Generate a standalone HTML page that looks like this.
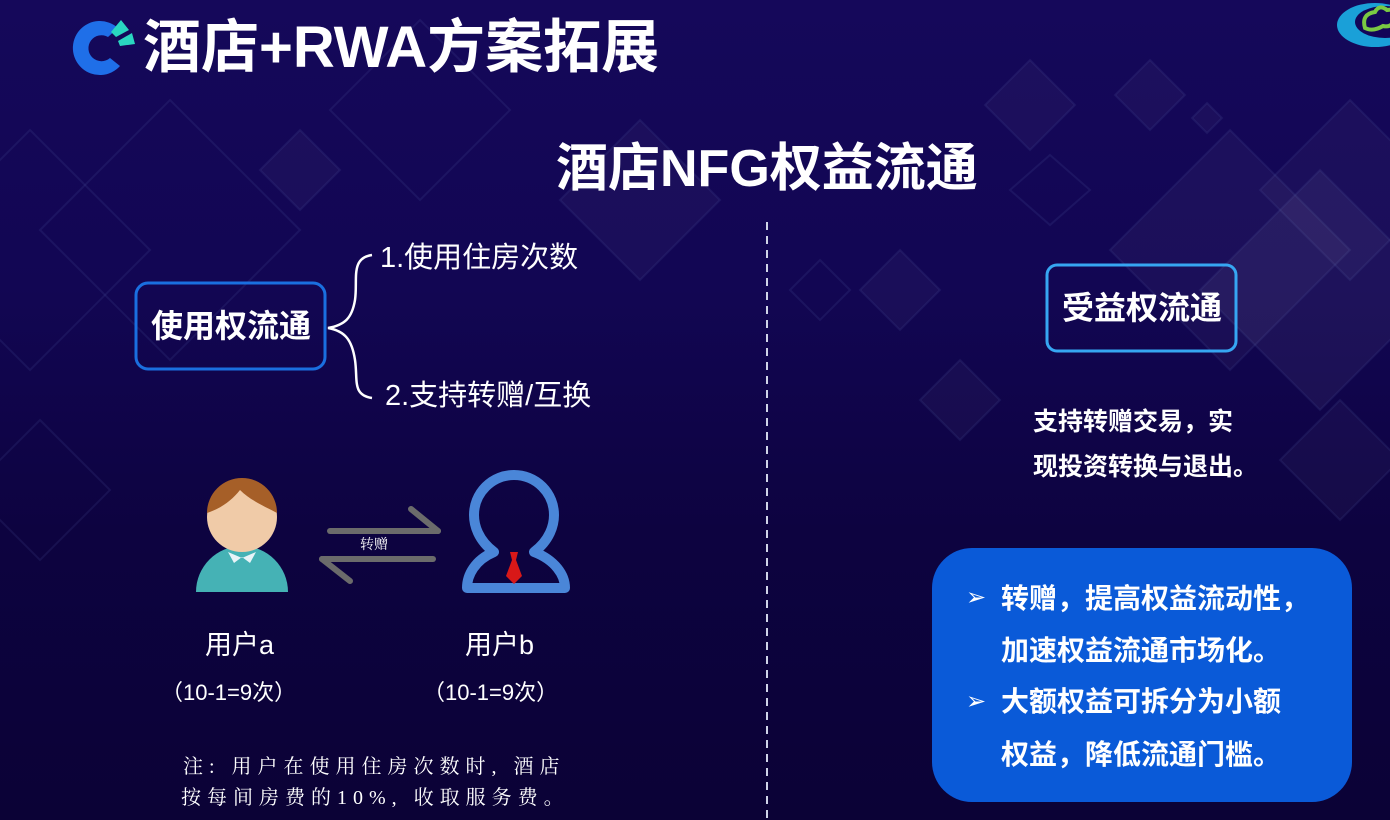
<!DOCTYPE html>
<html><head><meta charset="utf-8"><style>
html,body{margin:0;padding:0}
body{width:1390px;height:820px;overflow:hidden;position:relative;background:linear-gradient(180deg,#15085a 0%,#120653 35%,#0d0340 65%,#0b0236 100%);font-family:"Liberation Sans","Noto Sans CJK SC",sans-serif;color:#fff}
.t{position:absolute;white-space:nowrap}
</style></head><body>
<svg width="1390" height="820" style="position:absolute;left:0;top:0">
<g fill="#ffffff" fill-opacity="0.035" stroke="#5a6ab0" stroke-opacity="0.14" stroke-width="2">
<polygon points="170,100 300,230 170,360 40,230" fill-opacity="0"/>
<polygon points="30,130 150,250 30,370 -90,250" fill-opacity="0"/>
<polygon points="640,120 720,200 640,280 560,200"/>
<polygon points="1030,60 1075,105 1030,150 985,105"/>
<polygon points="1150,60 1185,95 1150,130 1115,95"/>
<polygon points="1207,103 1222,118 1207,133 1192,118"/>
<polygon points="1050,155 1090,190 1050,225 1010,190" fill-opacity="0"/>
<polygon points="1230,130 1350,250 1230,370 1110,250" fill-opacity="0.04"/>
<polygon points="1350,100 1440,190 1350,280 1260,190"/>
<polygon points="1320,170 1440,290 1320,410 1200,290" fill-opacity="0.05"/>
<polygon points="300,130 340,170 300,210 260,170"/>
<polygon points="900,250 940,290 900,330 860,290"/>
<polygon points="960,360 1000,400 960,440 920,400"/>
<polygon points="820,260 850,290 820,320 790,290" fill-opacity="0"/>
<polygon points="420,20 510,110 420,200 330,110" fill-opacity="0"/>
<polygon points="1340,400 1400,460 1340,520 1280,460"/>
<polygon points="40,420 110,490 40,560 -30,490" fill-opacity="0"/>
</g>
<path d="M118,28 A27,27 0 1 0 120,66 L110,58 A13,13 0 1 1 108,37 Z" fill="#1f6fe8"/>
<polygon points="111,32 121,20 129,30 116,37" fill="#2ad6c0"/>
<polygon points="118,41 132,33 135,44 120,46" fill="#2ad6c0"/>
<ellipse cx="1375" cy="25" rx="38" ry="22" fill="#1aa0d8"/>
<ellipse cx="1385" cy="22" rx="30" ry="16" fill="#130558"/>
<path d="M1365,28 q-4,-14 10,-16 q4,-8 12,-2 q10,-2 8,10 q-4,8 -12,6 q-10,6 -18,2z" fill="none" stroke="#7ac943" stroke-width="4"/>
<line x1="767" y1="222" x2="767" y2="820" stroke="#cfd3e8" stroke-width="2" stroke-dasharray="8,6"/>
<rect x="136" y="283" width="189" height="86" rx="12" fill="none" stroke="#1a6fe0" stroke-width="3"/>
<path d="M372,255 C350,258 358,280 355,300 C352,318 345,325 328,328 C345,331 352,340 355,360 C358,380 352,395 372,398" fill="none" stroke="#fff" stroke-width="2.5"/>
<rect x="1047" y="265" width="189" height="86" rx="10" fill="none" stroke="#36a6f2" stroke-width="3"/>
<path d="M196,592 A46,46 0 0 1 288,592 Z" fill="#45b2b5"/>
<polygon points="228,552 242,558 256,552 250,563 242,557 234,563" fill="#e8f4f8"/>
<circle cx="242" cy="517" r="35" fill="#f0cba8"/>
<path d="M207,513 A35,35 0 0 1 277,513 C262,505 250,500 240,490 C232,500 222,508 207,513 Z" fill="#a65f28"/>
<line x1="330" y1="531" x2="438" y2="531" stroke="#6b6b6b" stroke-width="6" stroke-linecap="round"/>
<line x1="411" y1="509" x2="438" y2="531" stroke="#6b6b6b" stroke-width="6" stroke-linecap="round"/>
<line x1="322" y1="559" x2="433" y2="559" stroke="#6b6b6b" stroke-width="6" stroke-linecap="round"/>
<line x1="322" y1="559" x2="350" y2="581" stroke="#6b6b6b" stroke-width="6" stroke-linecap="round"/>
<path d="M494,552 C478,540 474,525 474,515 A40,40 0 0 1 554,515 C554,525 550,540 534,552 C555,560 565,575 565,588 L467,588 C467,575 475,560 494,552 Z" fill="none" stroke="#4a86d8" stroke-width="10" stroke-linejoin="round"/>
<polygon points="510,552 518,552 516,560 522,576 514,584 506,576 512,560" fill="#d81818"/>
<rect x="932" y="548" width="420" height="254" rx="40" fill="#0a5ad8"/>
</svg>
<div class="t" style="left:143px;top:14px;font-size:58px;font-weight:bold;line-height:68px;">酒店+RWA方案拓展</div>
<div class="t" style="left:556px;top:138px;font-size:52px;font-weight:bold;line-height:62px;">酒店NFG权益流通</div>
<div class="t" style="left:151px;top:307px;font-size:32px;font-weight:bold;line-height:38px;">使用权流通</div>
<div class="t" style="left:380px;top:240px;font-size:29px;line-height:36px;">1.使用住房次数</div>
<div class="t" style="left:385px;top:378px;font-size:29px;line-height:36px;">2.支持转赠/互换</div>
<div class="t" style="left:1062px;top:289px;font-size:32px;font-weight:bold;line-height:38px;">受益权流通</div>
<div class="t" style="left:1033px;top:406px;font-size:25px;font-weight:bold;line-height:32px;">支持转赠交易，实</div>
<div class="t" style="left:1033px;top:451px;font-size:25px;font-weight:bold;line-height:32px;">现投资转换与退出。</div>
<div class="t" style="left:360px;top:537px;font-size:14px;line-height:18px;font-family:'Liberation Serif','Noto Serif CJK SC',serif;">转赠</div>
<div class="t" style="left:205px;top:628px;font-size:27px;line-height:34px;">用户a</div>
<div class="t" style="left:465px;top:628px;font-size:27px;line-height:34px;">用户b</div>
<div class="t" style="left:161px;top:678px;font-size:22px;line-height:30px;">（10-1=9次）</div>
<div class="t" style="left:423px;top:678px;font-size:22px;line-height:30px;">（10-1=9次）</div>
<div class="t" style="left:183px;top:753px;font-size:20px;line-height:28px;letter-spacing:6px;font-family:'Liberation Serif','Noto Serif CJK SC',serif;">注: 用户在使用住房次数时, 酒店</div>
<div class="t" style="left:181px;top:784px;font-size:20px;line-height:28px;letter-spacing:6px;font-family:'Liberation Serif','Noto Serif CJK SC',serif;">按每间房费的10%, 收取服务费。</div>
<div class="t" style="left:966px;top:583px;font-size:24px;line-height:30px;">➢</div>
<div class="t" style="left:1001px;top:582px;font-size:28px;font-weight:bold;line-height:34px;">转赠，提高权益流动性，</div>
<div class="t" style="left:1001px;top:634px;font-size:28px;font-weight:bold;line-height:34px;">加速权益流通市场化。</div>
<div class="t" style="left:966px;top:687px;font-size:24px;line-height:30px;">➢</div>
<div class="t" style="left:1001px;top:685px;font-size:28px;font-weight:bold;line-height:34px;">大额权益可拆分为小额</div>
<div class="t" style="left:1001px;top:738px;font-size:28px;font-weight:bold;line-height:34px;">权益，降低流通门槛。</div>
</body></html>
